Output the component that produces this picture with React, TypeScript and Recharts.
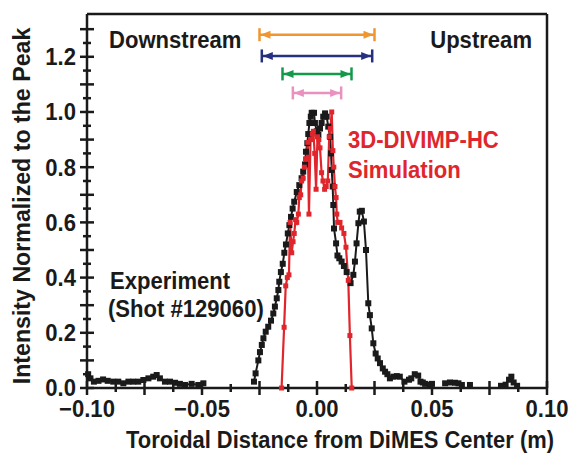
import React from "react";
import { LineChart, Line, XAxis, YAxis, ReferenceLine } from "recharts";

const INK = "#1a1a1a";
const SIM_RED = "#e0262c";
const FONT = "'Liberation Sans', Arial, sans-serif";

// experiment (black), null = gap in the trace
const expX = [
  -0.0995, -0.0985, -0.097, -0.095, -0.093, -0.091, -0.0886, -0.0864, -0.0842, -0.082,
  -0.0799, -0.0777, -0.0755, -0.0733, -0.0712, -0.0697, -0.0683, -0.0661, -0.0639, -0.0617,
  -0.0596, -0.0574, -0.0545, -0.0516, -0.0494, -0.047,
  -0.0274, -0.0267, -0.0255, -0.0248, -0.024, -0.0233, -0.0223, -0.0212, -0.02, -0.019,
  -0.0183, -0.0175, -0.0168, -0.0164, -0.0157, -0.0149, -0.0142, -0.0135, -0.0127, -0.012,
  -0.0113, -0.0106, -0.0099, -0.0088, -0.0077, -0.0067, -0.006, -0.0052, -0.0048, -0.0042,
  -0.0038, -0.0033, -0.0027, -0.0023, -0.0013, -0.0009, -0.0001, 0.0006, 0.0013, 0.002,
  0.0027, 0.0035, 0.0042, 0.0049, 0.0057, 0.0061, 0.0064, 0.0068, 0.0071, 0.0074,
  0.0083, 0.0089, 0.0097, 0.0107, 0.0117, 0.0129, 0.0146, 0.0158, 0.0165, 0.0172,
  0.018, 0.0186, 0.0195, 0.0204, 0.0213, 0.0223, 0.023, 0.0238, 0.0245, 0.0255,
  0.0264, 0.0274, 0.0286, 0.0296, 0.0306, 0.0317, 0.0332, 0.0347, 0.036, 0.038,
  0.04, 0.041, 0.0425, 0.044, 0.045, 0.046, 0.047, 0.049, 0.05, 0.052,
  0.0557, 0.0578, 0.06, 0.0615, 0.063, 0.064, 0.0665, 0.067,
  0.08, 0.082, 0.0835, 0.0845, 0.0855, 0.087,
];
const expY = [
  0.05, 0.035, 0.023, 0.026, 0.031, 0.026, 0.023, 0.023, 0.017, 0.023,
  0.023, 0.023, 0.029, 0.035, 0.041, 0.047, 0.035, 0.023, 0.023, 0.019,
  0.015, 0.011, 0.015, 0.011, 0.017, null,
  0.023, 0.053, 0.1, 0.13, 0.156, 0.18, 0.204, 0.222, 0.244, 0.27,
  0.295, 0.325, 0.355, 0.385, 0.42, 0.45, 0.49, 0.52, 0.56, 0.59,
  0.62, 0.65, 0.675, 0.71, 0.735, 0.76, 0.784, 0.81, 0.856, 0.887,
  0.92, 0.96, 0.983, 0.997, 0.997, 0.96, 0.93, 0.917, 0.94, 0.96,
  0.983, 0.995, 0.983, 0.947, 0.91, 0.85, 0.79, 0.73, 0.663, 0.578,
  0.524, 0.48, 0.47, 0.458, 0.442, 0.42, 0.38, 0.41, 0.458, 0.524,
  0.597, 0.639, 0.642, 0.603, 0.5, 0.307, 0.264, 0.216, 0.162, 0.125,
  0.107, 0.09, 0.071, 0.059, 0.05, 0.035, 0.041, 0.043, 0.041, 0.023,
  0.03, 0.035, 0.05, 0.045, 0.023, 0.02, 0.015, 0.012, 0.015, null,
  0.017, 0.02, 0.019, 0.017, 0.011, null, 0.011, null,
  0.008, 0.012, 0.03, 0.041, 0.02, 0.008,
];

// 3D-DIVIMP-HC simulation (red)
const simX = [
  -0.1, -0.0154, -0.0143, -0.0136, -0.0129, -0.0122, -0.0117, -0.011, -0.0104, -0.0099,
  -0.0093, -0.0088, -0.0081, -0.0077, -0.0071, -0.0067, -0.006, -0.0055, -0.005, -0.0045,
  -0.004, -0.0035, -0.0028, -0.002, -0.0016, -0.001, -0.0004, 0.0002, 0.0008, 0.0013,
  0.002, 0.0026, 0.0033, 0.004, 0.0047, 0.0053, 0.0058, 0.0064, 0.0069, 0.0073,
  0.0078, 0.0083, 0.0086, 0.009, 0.01, 0.0107, 0.0117, 0.0126, 0.0136, 0.0143,
  0.0151, 0.1,
];
const simY = [
  0, 0, 0.22, 0.37, 0.4, 0.41, 0.6, 0.49, 0.53, 0.56,
  0.61, 0.6, 0.63, 0.69, 0.7, 0.75, 0.76, 0.8, 0.83, 0.83,
  0.89, 0.63, 0.9, 0.92, 0.93, 0.85, 0.72, 0.91, 0.9, 0.87,
  0.78, 0.75, 0.72, 0.73, 0.75, 0.91, 0.94, 1.0, 0.86, 0.8,
  0.73, 0.69, 0.63, 0.6, 0.6, 0.58, 0.56, 0.51, 0.39, 0.19,
  0, 0,
];

// width bars drawn above the peak
const rangeHalfWidths = [0.025, 0.024, 0.015, 0.0105];
const rangeLevels = [1.28, 1.203, 1.138, 1.069];
const rangeColors = ["#f0962e", "#25307f", "#14994a", "#e991bf"];

const xTicks = [
  -0.1, -0.0875, -0.075, -0.0625, -0.05, -0.0375, -0.025, -0.0125, 0,
  0.0125, 0.025, 0.0375, 0.05, 0.0625, 0.075, 0.0875, 0.1,
];
const xLabelValues = [-0.1, -0.05, 0, 0.05, 0.1];
const xTickLabels = ["\u22120.10", "\u22120.05", "0.00", "0.05", "0.10"];
const yTicks = [
  0, 0.05, 0.1, 0.15, 0.2, 0.25, 0.3, 0.35, 0.4, 0.45, 0.5, 0.55, 0.6, 0.65,
  0.7, 0.75, 0.8, 0.85, 0.9, 0.95, 1.0, 1.05, 1.1, 1.15, 1.2, 1.25, 1.3,
];
const yLabelValues = [0, 0.2, 0.4, 0.6, 0.8, 1.0, 1.2];
const yTickLabels = ["0.0", "0.2", "0.4", "0.6", "0.8", "1.0", "1.2"];

const expData = expX.map((x, i) => ({ x, y: expY[i] }));
const simData = simX.map((x, i) => ({ x, y: simY[i] }));

const near = (a: number, b: number) => Math.abs(a - b) < 1e-6;
const onStep = (v: number, step: number) => near(v / step, Math.round(v / step));
const labelFor = (v: number, vals: number[], labels: string[]) => {
  const i = vals.findIndex((u) => near(u, v));
  return i >= 0 ? labels[i] : null;
};

// condensed-looking bold text: 24px glyphs squeezed horizontally
function T({ x, y, anchor = "start", color = INK, sx = 0.92, rotate = 0, children }: any) {
  return (
    <text
      transform={`translate(${x},${y}) rotate(${rotate}) scale(${sx},1)`}
      textAnchor={anchor}
      dominantBaseline="central"
      style={{ fontFamily: FONT, fontWeight: 700, fontSize: 24, fill: color }}
    >
      {children}
    </text>
  );
}

function XTick(props: any) {
  const { x, y, payload, side } = props;
  const v = payload.value;
  const len = onStep(v, 0.025) ? 7 : 4;
  const label = side === "bottom" ? labelFor(v, xLabelValues, xTickLabels) : null;
  return (
    <g>
      <line x1={x} x2={x} y1={y - len} y2={y + len} stroke={INK} strokeWidth={2.5} />
      {label && <T x={x} y={y + 21} anchor="middle">{label}</T>}
    </g>
  );
}

function YTick(props: any) {
  const { x, y, payload, side } = props;
  const v = payload.value;
  const len = onStep(v, 0.1) ? 7 : 4;
  const label = side === "left" ? labelFor(v, yLabelValues, yTickLabels) : null;
  return (
    <g>
      <line x1={x - len} x2={x + len} y1={y} y2={y} stroke={INK} strokeWidth={2.5} />
      {label && <T x={x - 11} y={y} anchor="end">{label}</T>}
    </g>
  );
}

function squareDot(color: string, size: number, skipEnds: boolean) {
  return (p: any) => {
    const key = `d-${p.index}`;
    if (p.cx == null || p.cy == null || p.value == null) return <g key={key} />;
    if (skipEnds && Math.abs(p.payload.x) >= 0.1) return <g key={key} />;
    return (
      <rect key={key} x={p.cx - size / 2} y={p.cy - size / 2} width={size} height={size} fill={color} />
    );
  };
}

function RangeBar(props: any) {
  const { x1, y1, x2, stroke } = props;
  const y = y1;
  const h = 6.5;
  const aw = 10;
  const ah = 4;
  return (
    <g>
      <line x1={x1} x2={x2} y1={y} y2={y} stroke={stroke} strokeWidth={2.5} />
      <line x1={x1} x2={x1} y1={y - h} y2={y + h} stroke={stroke} strokeWidth={2.5} />
      <line x1={x2} x2={x2} y1={y - h} y2={y + h} stroke={stroke} strokeWidth={2.5} />
      <polygon points={`${x1 + 1},${y} ${x1 + 1 + aw},${y - ah} ${x1 + 1 + aw},${y + ah}`} fill={stroke} />
      <polygon points={`${x2 - 1},${y} ${x2 - 1 - aw},${y - ah} ${x2 - 1 - aw},${y + ah}`} fill={stroke} />
    </g>
  );
}

export default function App() {
  const axisLine = { stroke: INK, strokeWidth: 2.5 };
  return (
    <div style={{ position: "absolute", left: 0, top: 0, width: 570, height: 458, background: "#fff" }}>
      <LineChart width={570} height={458} margin={{ top: 0, right: 0, bottom: 0, left: 0 }}>
        <XAxis
          xAxisId="b"
          type="number"
          dataKey="x"
          domain={[-0.1, 0.1]}
          ticks={xTicks}
          interval={0}
          height={70}
          tickSize={0}
          tickMargin={0}
          tickLine={false}
          axisLine={axisLine}
          tick={<XTick side="bottom" />}
        />
        <XAxis
          xAxisId="t"
          orientation="top"
          type="number"
          dataKey="x"
          domain={[-0.1, 0.1]}
          ticks={xTicks}
          interval={0}
          height={14}
          tickSize={0}
          tickMargin={0}
          tickLine={false}
          axisLine={axisLine}
          tick={<XTick side="top" />}
        />
        <YAxis
          yAxisId="l"
          type="number"
          domain={[0, 1.355]}
          ticks={yTicks}
          interval={0}
          width={87}
          tickSize={0}
          tickMargin={0}
          tickLine={false}
          axisLine={axisLine}
          tick={<YTick side="left" />}
        />
        <YAxis
          yAxisId="r"
          orientation="right"
          type="number"
          domain={[0, 1.355]}
          ticks={yTicks}
          interval={0}
          width={23}
          tickSize={0}
          tickMargin={0}
          tickLine={false}
          axisLine={axisLine}
          tick={<YTick side="right" />}
        />
        <Line
          xAxisId="b"
          yAxisId="l"
          data={expData}
          dataKey="y"
          stroke={INK}
          strokeWidth={2}
          dot={squareDot(INK, 6, false)}
          activeDot={false}
          connectNulls={false}
          isAnimationActive={false}
        />
        <Line
          xAxisId="b"
          yAxisId="l"
          data={simData}
          dataKey="y"
          stroke={SIM_RED}
          strokeWidth={2.2}
          dot={squareDot(SIM_RED, 5, true)}
          activeDot={false}
          isAnimationActive={false}
        />
        {rangeHalfWidths.map((hw, i) => (
          <ReferenceLine
            key={`r-${i}`}
            xAxisId="b"
            yAxisId="l"
            segment={[
              { x: -hw, y: rangeLevels[i] },
              { x: hw, y: rangeLevels[i] },
            ]}
            stroke={rangeColors[i]}
            shape={(p: any) => <RangeBar {...p} stroke={rangeColors[i]} />}
          />
        ))}
      </LineChart>
      <svg
        width={570}
        height={458}
        style={{ position: "absolute", left: 0, top: 0, pointerEvents: "none" }}
      >
        <T x={109} y={40}>Downstream</T>
        <T x={532} y={40} anchor="end">Upstream</T>
        <T x={348} y={140} color={SIM_RED}>3D-DIVIMP-HC</T>
        <T x={348} y={170} color={SIM_RED}>Simulation</T>
        <T x={110} y={281}>Experiment</T>
        <T x={108} y={309}>(Shot #129060)</T>
        <T x={340} y={440} anchor="middle" sx={0.913}>Toroidal Distance from DiMES Center (m)</T>
        <T x={22} y={206} anchor="middle" rotate={-90} sx={0.966}>Intensity Normalized to the Peak</T>
      </svg>
    </div>
  );
}
